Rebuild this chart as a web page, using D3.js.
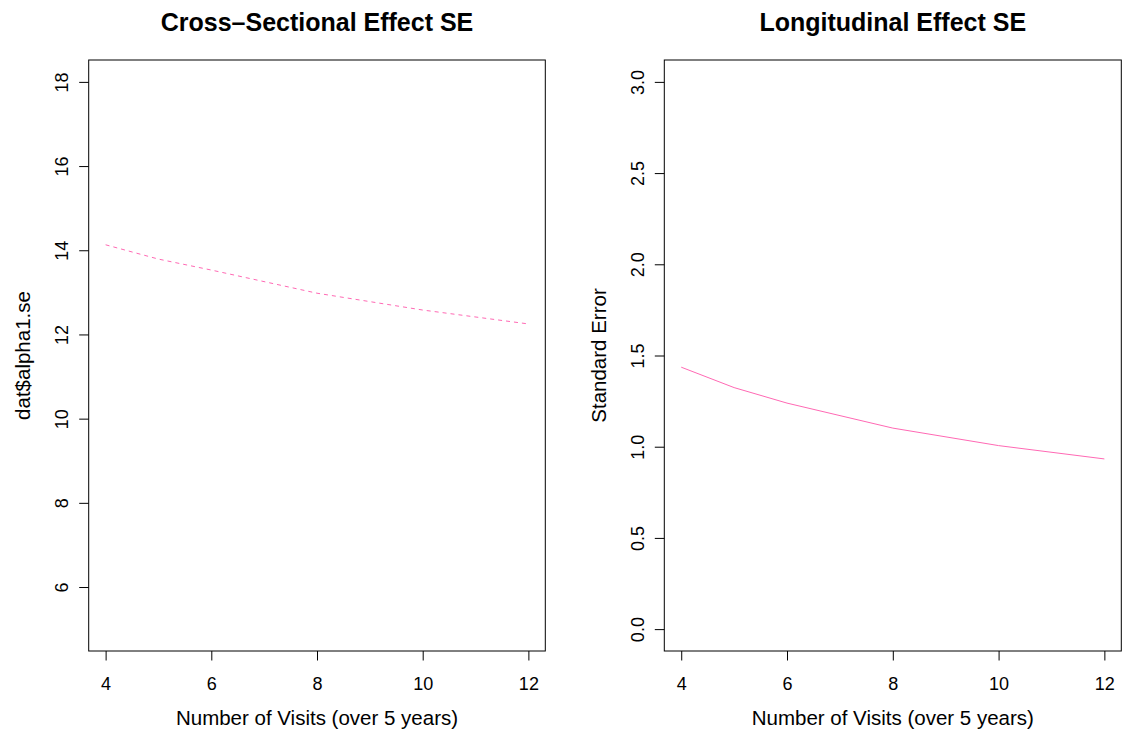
<!DOCTYPE html>
<html>
<head>
<meta charset="utf-8">
<script src="https://cdn.jsdelivr.net/npm/d3@7"></script>
<style>
  body { margin: 0; background: #fff; }
  svg { display: block; font-family: "Liberation Sans", Arial, sans-serif; }
</style>
</head>
<body>
<svg width="1124" height="734"></svg>
<script>
// data
var visits = [4, 5, 6, 8, 10, 12];
var crossSE = [14.13, 13.79, 13.53, 12.98, 12.58, 12.25];
var longSE = [1.436, 1.324, 1.239, 1.102, 1.006, 0.933];

var xTicks = [4, 6, 8, 10, 12];
var crossTicks = [6, 8, 10, 12, 14, 16, 18];
var longTicks = [0, 0.5, 1, 1.5, 2, 2.5, 3];

var lineColor = "#ff69b4";
var plotTop = 60, plotBottom = 651;

var svg = d3.select("svg");

// R style limits: 4% padding on each side
function pad(lim) {
    var d = (lim[1] - lim[0]) * 0.04;
    return [lim[0] - d, lim[1] + d];
}

function drawPanel(p) {
    var xScale = d3.scaleLinear()
        .domain(pad([4, 12]))
        .range([p.left, p.right]);
    var yScale = d3.scaleLinear()
        .domain(pad(p.ylim))
        .range([plotBottom, plotTop]);

    var g = svg.append("g");

    //x axis
    var xAxis = d3.axisBottom(xScale)
        .tickValues(xTicks)
        .tickSize(9.5)
        .tickSizeOuter(0);
    var gx = g.append("g")
        .attr("transform", "translate(0," + plotBottom + ")")
        .call(xAxis);
    gx.select(".domain").remove();
    gx.selectAll("text")
        .attr("y", 38.5)
        .attr("dy", null)
        .style("font-size", "18px")
        .attr("fill", "#000");

    //y axis, labels parallel to the axis
    var yAxis = d3.axisLeft(yScale)
        .tickValues(p.yTicks)
        .tickFormat(p.fmt)
        .tickSize(9.5)
        .tickSizeOuter(0);
    var gy = g.append("g")
        .attr("transform", "translate(" + p.left + ",0)")
        .call(yAxis);
    gy.select(".domain").remove();
    gy.selectAll("text")
        .attr("x", null)
        .attr("dy", null)
        .attr("transform", "translate(-20.5,0) rotate(-90)")
        .style("text-anchor", "middle")
        .style("font-size", "18px")
        .attr("fill", "#000");
    g.selectAll(".tick line").attr("stroke", "#000");

    //box
    g.append("rect")
        .attr("x", p.left)
        .attr("y", plotTop)
        .attr("width", p.right - p.left)
        .attr("height", plotBottom - plotTop)
        .attr("fill", "none")
        .attr("stroke", "#000")
        .attr("stroke-width", 1);

    //line
    var line = d3.line()
        .x(d => xScale(d[0]))
        .y(d => yScale(d[1]));
    g.append("path")
        .datum(d3.zip(visits, p.values))
        .attr("d", line)
        .attr("fill", "none")
        .attr("stroke", lineColor)
        .attr("stroke-width", 1)
        .attr("stroke-dasharray", p.dash);

    //title
    g.append("text")
        .attr("x", (p.left + p.right) / 2)
        .attr("y", 31)
        .style("text-anchor", "middle")
        .style("font-size", "25px")
        .style("font-weight", "bold")
        .text(p.title);

    //x label
    g.append("text")
        .attr("x", (p.left + p.right) / 2)
        .attr("y", 725)
        .style("text-anchor", "middle")
        .style("font-size", "20.5px")
        .text("Number of Visits (over 5 years)");

    //y label
    g.append("text")
        .attr("transform", "rotate(-90)")
        .attr("x", -(plotTop + plotBottom) / 2)
        .attr("y", p.left - 58.5)
        .style("text-anchor", "middle")
        .style("font-size", "20.5px")
        .text(p.ylab);
}

drawPanel({
    left: 88.7, right: 545.3,
    ylim: [5, 18], yTicks: crossTicks, fmt: d3.format("d"),
    values: crossSE, dash: "4,4",
    title: "Cross\u2013Sectional Effect SE",
    ylab: "dat$alpha1.se"
});

drawPanel({
    left: 664.3, right: 1121.3,
    ylim: [0, 3], yTicks: longTicks, fmt: d3.format(".1f"),
    values: longSE, dash: null,
    title: "Longitudinal Effect SE",
    ylab: "Standard Error"
});
</script>
</body>
</html>
